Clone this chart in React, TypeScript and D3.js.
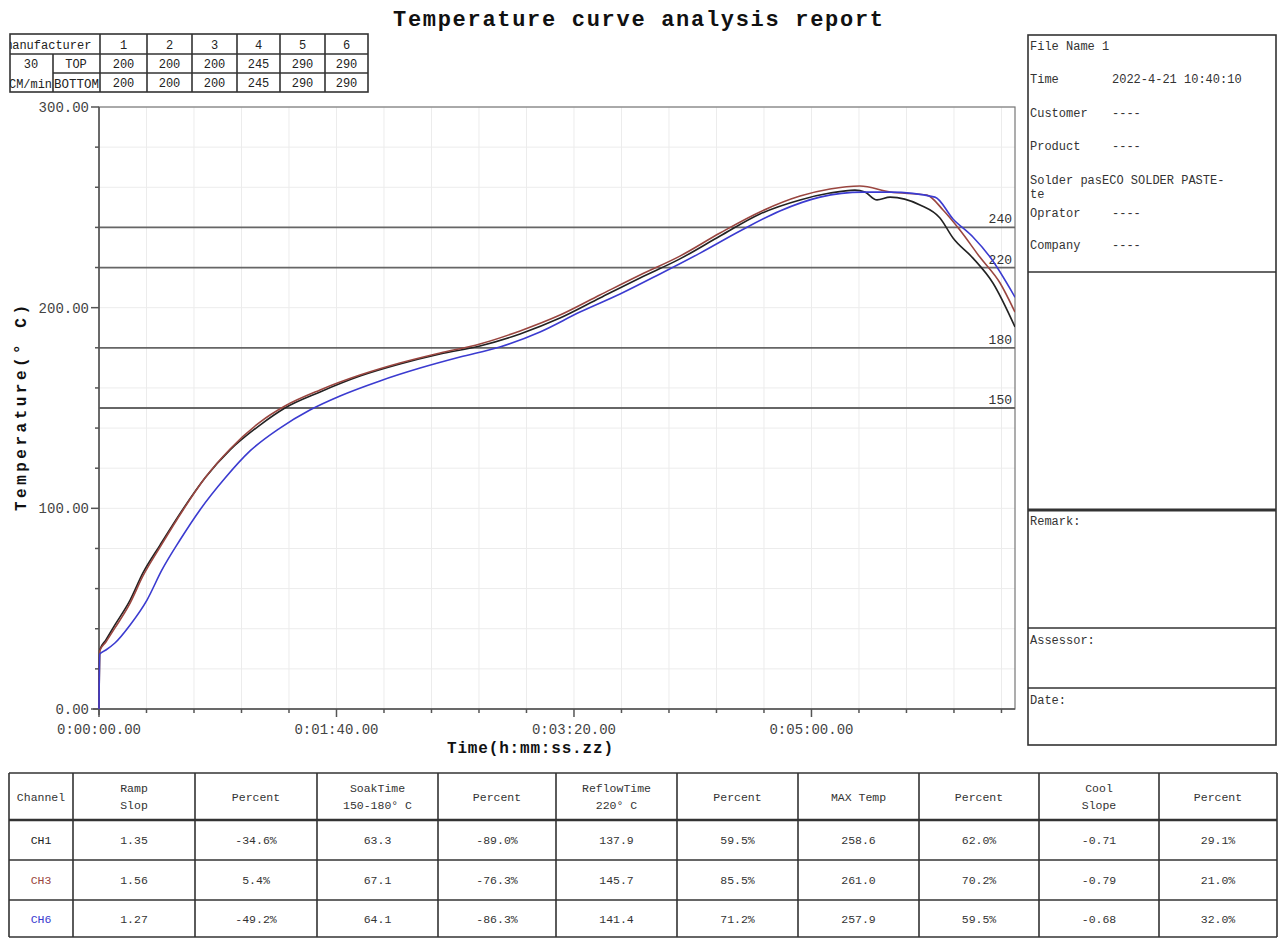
import React, { useMemo } from 'react';
import * as d3 from 'd3';

const W = 1278;
const H = 938;
const PLOT = { left: 99, right: 1015, top: 107, bottom: 709 };
const MONO = '"Liberation Mono", "DejaVu Sans Mono", monospace';

const TITLE = 'Temperature curve analysis report';

// oven zone set points
const ZONES = ['1', '2', '3', '4', '5', '6'];
const TOP_SET = [200, 200, 200, 245, 290, 290];
const BOTTOM_SET = [200, 200, 200, 245, 290, 290];

const REF_LINES = [240, 220, 180, 150];
const X_TICKS = [0, 100, 200, 300];
const Y_TICKS = [0, 100, 200, 300];

// seconds / deg C
const CH1_TIME = [0, 0.3, 2.9, 6.7, 13.1, 18.5, 25.7, 35.4, 44.6, 55.2, 67.8, 78.3, 93.1, 109.9, 126.7, 143.6, 160.4, 177.3, 194.1, 210.9, 227.8, 244.6, 261.5, 278.3, 295.2, 307.8, 318.3, 322.5, 327.6, 333.1, 345.7, 354.1, 359.6, 368.0, 376.4, 385.7];
const CH1_TEMP = [0, 29.4, 34.4, 41.9, 54.3, 67.8, 81.7, 99.7, 115.1, 129.1, 141.5, 150.0, 158.0, 165.9, 171.9, 176.9, 180.9, 186.9, 194.8, 204.8, 214.8, 224.3, 235.7, 246.7, 253.7, 257.1, 258.6, 257.6, 253.7, 255.1, 251.2, 244.7, 234.7, 224.7, 212.3, 190.4];

const CH3_TIME = [0, 0.3, 2.9, 6.7, 13.1, 18.5, 25.7, 35.4, 44.6, 55.2, 67.8, 78.3, 93.1, 109.9, 126.7, 143.6, 160.4, 177.3, 194.1, 210.9, 227.8, 244.6, 261.5, 278.3, 295.2, 307.8, 320.4, 333.1, 348.6, 355.4, 362.5, 370.9, 379.4, 385.7];
const CH3_TEMP = [0, 28.9, 33.4, 40.4, 52.8, 66.3, 80.7, 99.2, 115.1, 129.6, 143.0, 151.0, 159.0, 166.4, 172.4, 177.4, 181.9, 188.4, 196.3, 206.3, 216.3, 225.7, 237.2, 247.7, 255.6, 259.1, 260.6, 257.6, 256.1, 248.7, 238.7, 225.2, 212.3, 197.8];

const CH6_TIME = [0, 0.3, 2.9, 6.7, 13.1, 20.2, 26.5, 34.1, 42.5, 53.1, 63.6, 76.2, 88.8, 101.5, 118.3, 135.2, 152.0, 168.8, 185.7, 202.5, 219.4, 236.2, 253.1, 269.9, 286.7, 303.6, 321.7, 333.1, 352.0, 359.6, 368.0, 375.2, 385.7];
const CH6_TEMP = [0, 27.4, 29.4, 32.9, 41.9, 54.3, 69.3, 84.2, 99.2, 115.1, 128.6, 140.0, 149.0, 156.0, 163.5, 169.9, 175.4, 180.4, 187.9, 197.8, 206.8, 216.8, 227.2, 238.2, 248.2, 255.1, 257.6, 257.6, 255.1, 244.2, 235.2, 225.2, 205.2];

const CHANNELS = [
  { name: 'CH1', color: '#222222', time: CH1_TIME, temp: CH1_TEMP },
  { name: 'CH3', color: '#9a4640', time: CH3_TIME, temp: CH3_TEMP },
  { name: 'CH6', color: '#3b3bd0', time: CH6_TIME, temp: CH6_TEMP },
];

const INFO_LABELS = ['File Name 1', 'Time', 'Customer', 'Product', 'Solder pas', 'Oprator', 'Company'];
const INFO_VALUES = ['', '2022-4-21 10:40:10', '----', '----', 'ECO SOLDER PASTE-', '----', '----'];

const TABLE_HEADERS = [['Channel'], ['Ramp', 'Slop'], ['Percent'], ['SoakTime', '150-180° C'], ['Percent'], ['ReflowTime', '220° C'], ['Percent'], ['MAX Temp'], ['Percent'], ['Cool', 'Slope'], ['Percent']];
const CH1_ROW = ['1.35', '-34.6%', '63.3', '-89.0%', '137.9', '59.5%', '258.6', '62.0%', '-0.71', '29.1%'];
const CH3_ROW = ['1.56', '5.4%', '67.1', '-76.3%', '145.7', '85.5%', '261.0', '70.2%', '-0.79', '21.0%'];
const CH6_ROW = ['1.27', '-49.2%', '64.1', '-86.3%', '141.4', '71.2%', '257.9', '59.5%', '-0.68', '32.0%'];
const TABLE_ROWS = [CH1_ROW, CH3_ROW, CH6_ROW];

// table geometry
const COL_X = [9, 73, 195, 317, 438, 556, 677, 798, 919, 1039, 1159, 1277];
const ROW_Y = [773, 820, 860, 900, 937];
const ZONE_X = [10, 53, 100, 147, 192, 237, 280, 325, 368];
const ZONE_Y = [34, 54, 73, 92];

function fmtTime(s: number) {
  const h = Math.floor(s / 3600);
  const m = Math.floor((s % 3600) / 60);
  const sec = Math.floor(s % 60);
  return `${h}:${String(m).padStart(2, '0')}:${String(sec).padStart(2, '0')}.00`;
}

export default function App() {
  const x = useMemo(() => d3.scaleLinear().domain([0, 385.7]).range([PLOT.left, PLOT.right]), []);
  const y = useMemo(() => d3.scaleLinear().domain([0, 300]).range([PLOT.bottom, PLOT.top]), []);

  const minorX = d3.range(0, 386, 20);
  const minorY = d3.range(0, 301, 20);

  const line = d3
    .line<[number, number]>()
    .x((d) => x(d[0]))
    .y((d) => y(d[1]))
    .curve(d3.curveMonotoneX);

  const gridColor = '#ececec';
  const frame = '#555';
  const tbl = '#333';

  return (
    <svg
      width={W}
      height={H}
      style={{ position: 'absolute', left: 0, top: 0, background: '#fff' }}
      fontFamily={MONO}
    >
      <defs>
        <clipPath id="mfgClip">
          <rect x={ZONE_X[0]} y={ZONE_Y[0]} width={ZONE_X[2] - ZONE_X[0]} height={ZONE_Y[1] - ZONE_Y[0]} />
        </clipPath>
        <clipPath id="speedClip">
          <rect x={ZONE_X[0]} y={ZONE_Y[1]} width={ZONE_X[1] - ZONE_X[0]} height={ZONE_Y[3] - ZONE_Y[1]} />
        </clipPath>
        <clipPath id="sideClip">
          <rect x={ZONE_X[1]} y={ZONE_Y[1]} width={ZONE_X[2] - ZONE_X[1]} height={ZONE_Y[3] - ZONE_Y[1]} />
        </clipPath>
        <clipPath id="plotClip">
          <rect x={PLOT.left - 1} y={PLOT.top} width={PLOT.right - PLOT.left + 1} height={PLOT.bottom - PLOT.top + 1} />
        </clipPath>
      </defs>

      {/* Title */}
      <text x={638} y={26} textAnchor="middle" fontSize={22} fontWeight="bold" textLength={490} fill="#111">
        {TITLE}
      </text>

      {/* Zone settings table */}
      <g stroke={tbl} strokeWidth={1.6} fill="none">
        <rect x={ZONE_X[0]} y={ZONE_Y[0]} width={ZONE_X[8] - ZONE_X[0]} height={ZONE_Y[3] - ZONE_Y[0]} />
        <line x1={ZONE_X[0]} x2={ZONE_X[8]} y1={ZONE_Y[1]} y2={ZONE_Y[1]} />
        <line x1={ZONE_X[1]} x2={ZONE_X[8]} y1={ZONE_Y[2]} y2={ZONE_Y[2]} />
        <line x1={ZONE_X[1]} x2={ZONE_X[1]} y1={ZONE_Y[1]} y2={ZONE_Y[3]} />
        {ZONE_X.slice(2, 8).map((zx) => (
          <line key={zx} x1={zx} x2={zx} y1={ZONE_Y[0]} y2={ZONE_Y[3]} />
        ))}
      </g>
      <g fontSize={12} fill="#222" fontFamily={MONO}>
        <text x={5} y={49} clipPath="url(#mfgClip)">manufacturer</text>
        <g clipPath="url(#speedClip)">
          <text x={31} y={68} textAnchor="middle">30</text>
          <text x={9} y={88} textLength={43} lengthAdjust="spacingAndGlyphs">CM/min</text>
        </g>
        <g clipPath="url(#sideClip)">
          <text x={76} y={68} textAnchor="middle">TOP</text>
          <text x={54} y={88} textLength={45} lengthAdjust="spacingAndGlyphs">BOTTOM</text>
        </g>
        {ZONES.map((z, i) => {
          const cx = (ZONE_X[i + 2] + ZONE_X[i + 3]) / 2;
          return (
            <g key={z}>
              <text x={cx} y={49} textAnchor="middle">{z}</text>
              <text x={cx} y={68} textAnchor="middle">{TOP_SET[i]}</text>
              <text x={cx} y={87} textAnchor="middle">{BOTTOM_SET[i]}</text>
            </g>
          );
        })}
      </g>

      {/* Grid */}
      <g stroke={gridColor} strokeWidth={1}>
        {minorX.map((t) => (
          <line key={'gx' + t} x1={x(t)} x2={x(t)} y1={PLOT.top} y2={PLOT.bottom} />
        ))}
        {minorY.map((t) => (
          <line key={'gy' + t} x1={PLOT.left} x2={PLOT.right} y1={y(t)} y2={y(t)} />
        ))}
      </g>

      {/* Frame */}
      <rect
        x={PLOT.left}
        y={PLOT.top}
        width={PLOT.right - PLOT.left}
        height={PLOT.bottom - PLOT.top}
        fill="none"
        stroke="#777"
        strokeWidth={1.2}
      />

      {/* Reference lines */}
      {REF_LINES.map((r) => (
        <g key={r}>
          <line x1={PLOT.left} x2={PLOT.right} y1={y(r)} y2={y(r)} stroke="#666" strokeWidth={1.8} />
          <text x={PLOT.right - 3} y={y(r) - 4} textAnchor="end" fontSize={13} fill="#333">
            {r}
          </text>
        </g>
      ))}

      {/* Axes */}
      <g stroke={frame} strokeWidth={1.5}>
        <line x1={PLOT.left} x2={PLOT.left} y1={PLOT.top} y2={PLOT.bottom + 6} />
        <line x1={PLOT.left - 6} x2={PLOT.right} y1={PLOT.bottom} y2={PLOT.bottom} />
        {minorY.map((t) => (
          <line key={'ty' + t} x1={PLOT.left - (t % 100 === 0 ? 8 : 4)} x2={PLOT.left} y1={y(t)} y2={y(t)} />
        ))}
        {minorX.map((t) => (
          <line key={'tx' + t} x1={x(t)} x2={x(t)} y1={PLOT.bottom} y2={PLOT.bottom + (t % 100 === 0 ? 8 : 4)} />
        ))}
      </g>
      <g fontSize={14} fill="#444">
        {Y_TICKS.map((t) => (
          <text key={t} x={PLOT.left - 10} y={y(t) + 5} textAnchor="end">
            {t.toFixed(2)}
          </text>
        ))}
        {X_TICKS.map((t) => (
          <text key={t} x={x(t)} y={PLOT.bottom + 25} textAnchor="middle">
            {fmtTime(t)}
          </text>
        ))}
      </g>
      <text
        x={0}
        y={0}
        transform={`translate(26,${(PLOT.top + PLOT.bottom) / 2}) rotate(-90)`}
        textAnchor="middle"
        fontSize={16}
        fontWeight="bold"
        textLength={206}
        fill="#111"
      >
        Temperature(° C)
      </text>
      <text x={530} y={753} textAnchor="middle" fontSize={16} fontWeight="bold" textLength={166} fill="#111">
        Time(h:mm:ss.zz)
      </text>

      {/* Curves */}
      <g clipPath="url(#plotClip)" fill="none" strokeWidth={1.6}>
        {CHANNELS.map((c) => (
          <path
            key={c.name}
            d={line(c.time.map((t, i) => [t, c.temp[i]] as [number, number])) ?? ''}
            stroke={c.color}
          />
        ))}
      </g>

      {/* Right info panel */}
      <g stroke={tbl} fill="none">
        <rect x={1028} y={35} width={248} height={710} strokeWidth={1.6} />
        <line x1={1028} x2={1276} y1={272} y2={272} strokeWidth={1.6} />
        <line x1={1028} x2={1276} y1={510} y2={510} strokeWidth={3} />
        <line x1={1028} x2={1276} y1={628} y2={628} strokeWidth={1.6} />
        <line x1={1028} x2={1276} y1={688} y2={688} strokeWidth={1.6} />
      </g>
      <g fontSize={12} fill="#333">
        {INFO_LABELS.map((label, i) => {
          const ys = [50, 83, 117, 150, 184, 217, 249];
          return (
            <g key={label}>
              <text x={1030} y={ys[i]}>{label}</text>
              {INFO_VALUES[i] && (
                <text x={i === 4 ? 1102 : 1112} y={ys[i]}>{INFO_VALUES[i]}</text>
              )}
            </g>
          );
        })}
        <text x={1030} y={198}>te</text>
        <text x={1030} y={525}>Remark:</text>
        <text x={1030} y={644}>Assessor:</text>
        <text x={1030} y={704}>Date:</text>
      </g>

      {/* Result table */}
      <g stroke={tbl} strokeWidth={1.6}>
        {ROW_Y.map((ry, i) => (
          <line key={'r' + ry} x1={COL_X[0]} x2={COL_X[COL_X.length - 1]} y1={ry} y2={ry} strokeWidth={i === 1 ? 2.6 : 1.6} />
        ))}
        {COL_X.map((cx) => (
          <line key={'c' + cx} x1={cx} x2={cx} y1={ROW_Y[0]} y2={ROW_Y[ROW_Y.length - 1]} />
        ))}
      </g>
      <g fontSize={11.5} fill="#333" textAnchor="middle">
        {TABLE_HEADERS.map((lines, i) => {
          const cx = (COL_X[i] + COL_X[i + 1]) / 2;
          return lines.length === 1 ? (
            <text key={i} x={cx} y={801}>{lines[0]}</text>
          ) : (
            <g key={i}>
              <text x={cx} y={792}>{lines[0]}</text>
              <text x={cx} y={809}>{lines[1]}</text>
            </g>
          );
        })}
        {TABLE_ROWS.map((row, r) => {
          const cy = (ROW_Y[r + 1] + ROW_Y[r + 2]) / 2 + 4;
          return (
            <g key={r}>
              <text x={(COL_X[0] + COL_X[1]) / 2} y={cy} fill={CHANNELS[r].color}>
                {CHANNELS[r].name}
              </text>
              {row.map((v, i) => (
                <text key={i} x={(COL_X[i + 1] + COL_X[i + 2]) / 2} y={cy}>
                  {v}
                </text>
              ))}
            </g>
          );
        })}
      </g>
    </svg>
  );
}
